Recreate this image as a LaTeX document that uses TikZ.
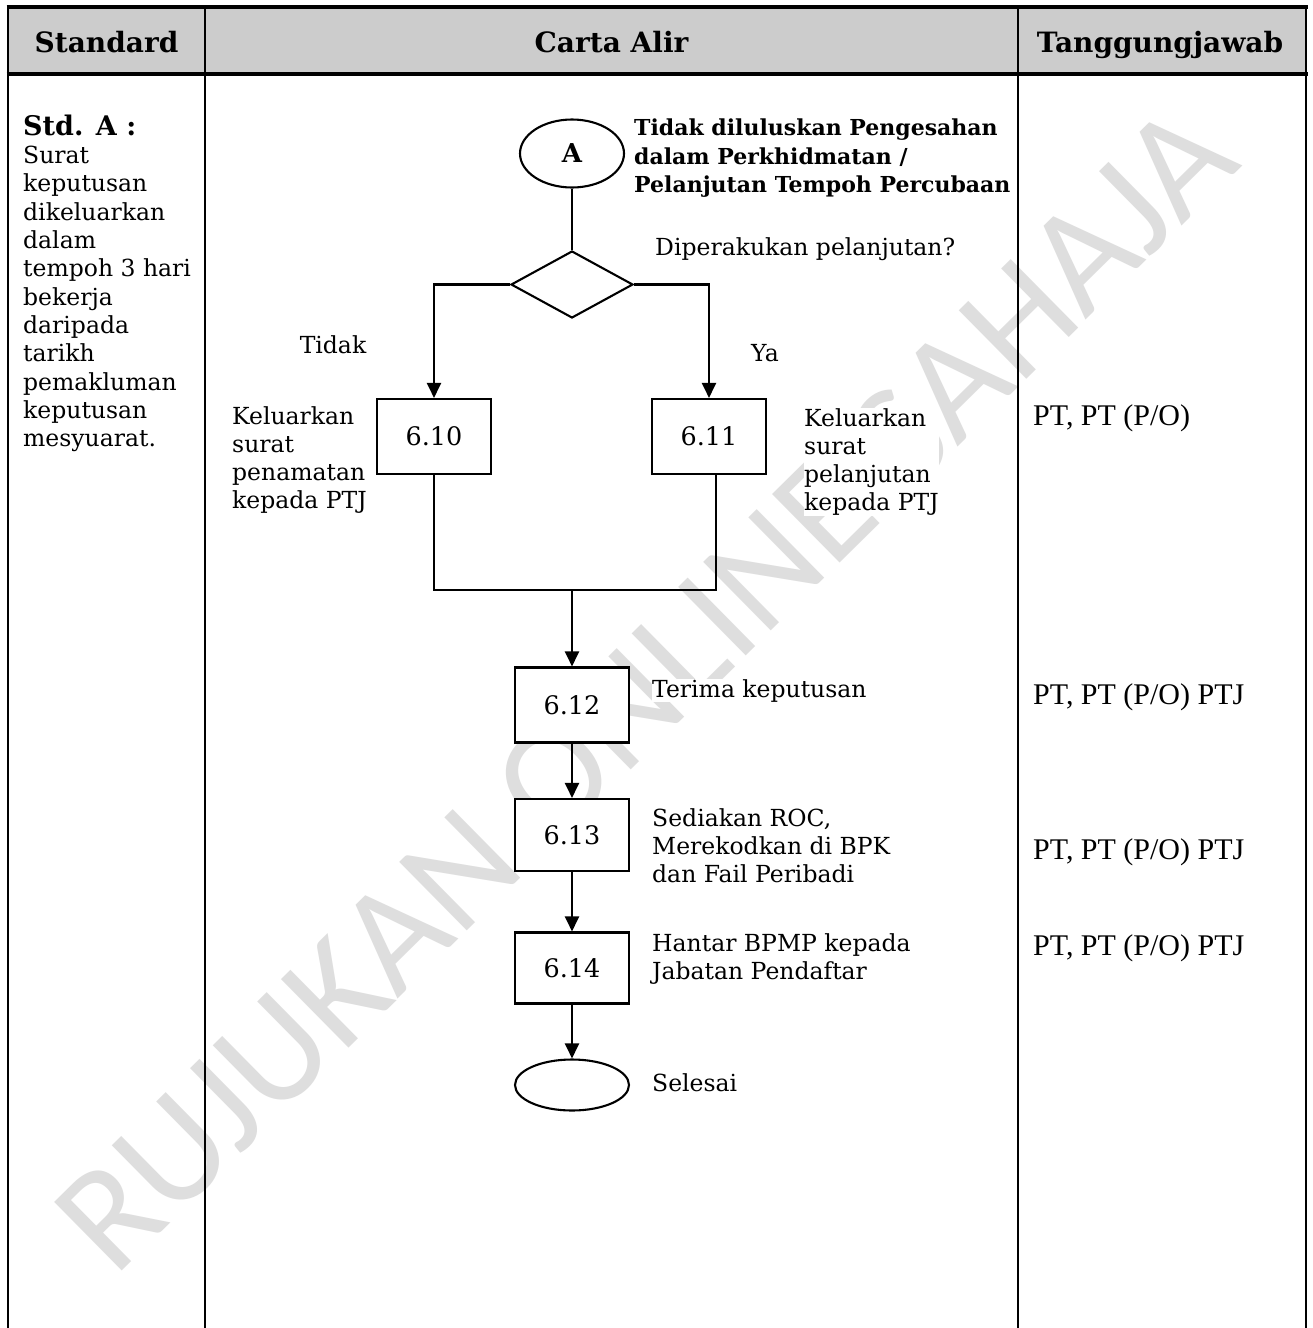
\documentclass[tikz,border=0pt]{standalone}
\usepackage{fontspec}
\setmainfont{DejaVu Serif}
\newfontfamily\timesf{Liberation Serif}
\newfontfamily\wmf{Carlito}
\usetikzlibrary{shapes.geometric,arrows.meta}
\definecolor{hdrgray}{RGB}{204,204,204}
\definecolor{wmgray}{RGB}{222,222,222}
\tikzset{
  ln/.style={line width=2.1pt},
  arr/.style={line width=2.1pt,-{Triangle[length=15pt,width=14pt]}},
  gridline/.style={line width=2.3pt},
  thickgrid/.style={line width=3.5pt},
  procbox/.style={draw,fill=white,line width=2.1pt,minimum width=114pt,minimum height=75pt,inner sep=0pt,font=\fontsize{25.5}{28}\selectfont},
  term/.style={draw,fill=white,ellipse,line width=2.1pt,inner sep=0pt},
  txt/.style={inner sep=0pt,font=\fontsize{23.5}{28.3}\selectfont,align=left},
  lbl/.style={txt,fill=white},
  boldtxt/.style={inner sep=0pt,fill=white,font=\fontsize{22}{28.5}\selectfont\bfseries,align=left},
  hdr/.style={inner sep=0pt,anchor=base,font=\fontsize{28}{30}\selectfont\bfseries},
  resp/.style={inner sep=0pt,font=\fontsize{30}{32}\selectfont\timesf},
}
\begin{document}
\begin{tikzpicture}[x=1pt,y=-1pt]
\useasboundingbox (0,0) rectangle (1313,1328);
\fill[white] (0,0) rectangle (1313,1328);
% watermark
\node[rotate=44.6,text=wmgray,inner sep=0pt,font=\fontsize{150}{150}\selectfont\wmf] (wm) at (645,688) {RUJUKAN ONLINE SAHAJA};
% table
\fill[hdrgray] (8,7) rectangle (1306,74);
\draw[gridline] (8,7) -- (8,1328);
\draw[gridline] (205,7) -- (205,1328);
\draw[gridline] (1018,7) -- (1018,1328);
\draw[gridline] (1306,7) -- (1306,1328);
\draw[thickgrid] (6.5,7) -- (1307.5,7);
\draw[thickgrid] (6.5,74) -- (1307.5,74);
\node[hdr] (h1) at (106.5,52) {Standard};
\node[hdr] (h2) at (611.5,52) {Carta Alir};
\node[hdr] (h3) at (1160,52) {Tanggungjawab};
% standard column
\node[inner sep=0pt,font=\fontsize{27}{30}\selectfont\bfseries,anchor=base west] (stdA) at (23,135) {Std. A :};
\node[txt,anchor=north west] (stdtxt) at (23,146) {Surat\\keputusan\\dikeluarkan\\dalam\\tempoh 3 hari\\bekerja\\daripada\\tarikh\\pemakluman\\keputusan\\mesyuarat.};
% flow chart
\node[term,minimum width=104pt,minimum height=68pt,font=\fontsize{26}{28}\selectfont\bfseries] (A) at (572,153.5) {A};
\node[boldtxt,anchor=north west] (title) at (634,119) {Tidak diluluskan Pengesahan\\dalam Perkhidmatan /\\Pelanjutan Tempoh Percubaan};
\node[draw,fill=white,diamond,line width=2.1pt,minimum width=122pt,minimum height=67pt,inner sep=0pt] (dia) at (572,284.5) {};
\node[lbl,anchor=base west] (q) at (655,255) {Diperakukan pelanjutan?};
\node[lbl,anchor=base] (tidak) at (333,353) {Tidak};
\node[lbl,anchor=base] (ya) at (765,361) {Ya};
\node[procbox] (b610) at (434,436.5) {6.10};
\node[procbox] (b611) at (709,436.5) {6.11};
\node[lbl,anchor=north west] (l610) at (232,406) {Keluarkan\\surat\\penamatan\\kepada PTJ};
\node[lbl,anchor=north west] (l611) at (804,408) {Keluarkan\\surat\\pelanjutan\\kepada PTJ};
\coordinate (jm) at (572,590);
\node[procbox] (b612) at (572,705) {6.12};
\node[procbox,minimum height=72pt] (b613) at (572,835) {6.13};
\node[procbox,minimum height=71pt] (b614) at (572,968) {6.14};
\node[term,minimum width=114pt,minimum height=51pt] (end) at (572,1085) {};
\node[lbl,anchor=base west] (l612) at (652,697) {Terima keputusan};
\node[lbl,anchor=north west] (l613) at (652,808) {Sediakan ROC,\\Merekodkan di BPK\\dan Fail Peribadi};
\node[lbl,anchor=north west] (l614) at (652,933) {Hantar BPMP kepada\\Jabatan Pendaftar};
\node[lbl,anchor=base west] (lend) at (652,1091) {Selesai};
% responsibility column
\node[resp,anchor=base west] (r1) at (1033,425) {PT, PT (P/O)};
\node[resp,anchor=base west] (r2) at (1033,704) {PT, PT (P/O) PTJ};
\node[resp,anchor=base west] (r3) at (1033,859) {PT, PT (P/O) PTJ};
\node[resp,anchor=base west] (r4) at (1033,955) {PT, PT (P/O) PTJ};
% connectors
\draw[ln] (A.south) -- (dia.north);
\draw[arr] (dia.west) -| (b610.north);
\draw[arr] (dia.east) -| (b611.north);
\draw[ln] (b610.south) |- (jm) -| ([xshift=7pt]b611.south);
\draw[arr] (jm) -- (b612.north);
\draw[arr] (b612.south) -- (b613.north);
\draw[arr] (b613.south) -- (b614.north);
\draw[arr] (b614.south) -- (end.north);
\end{tikzpicture}
\end{document}
